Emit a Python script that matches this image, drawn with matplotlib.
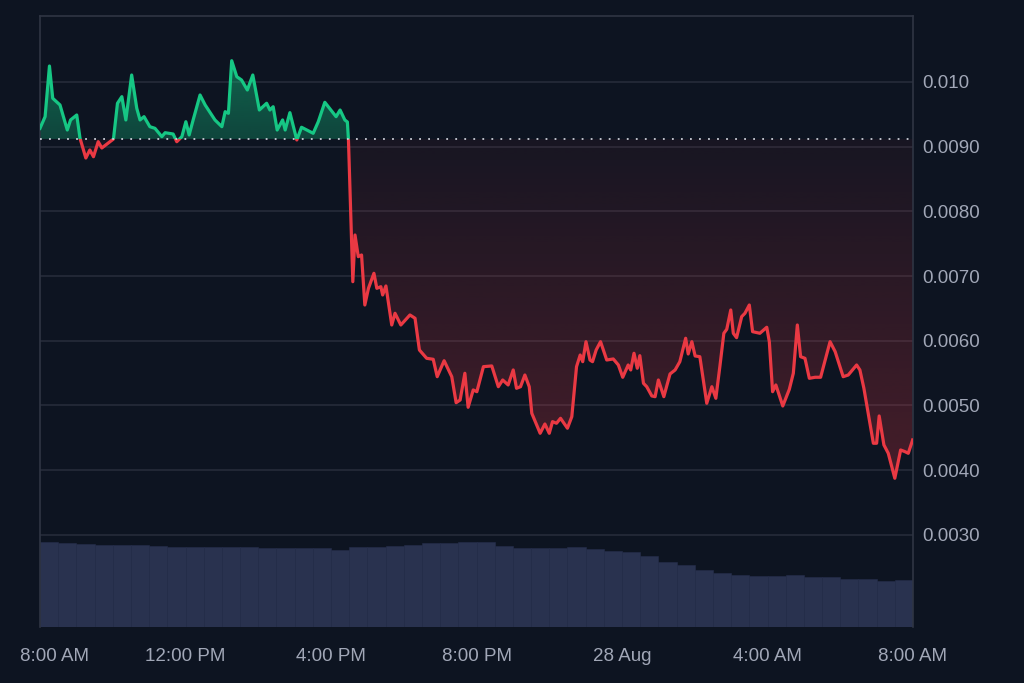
import matplotlib
matplotlib.use("Agg")
import matplotlib.pyplot as plt
import matplotlib.colors as mcolors
import matplotlib.transforms as mtransforms
from matplotlib.path import Path
from matplotlib.patches import Rectangle
import numpy as np

# price, hours after 8:00 AM (27 Aug) -> 8:00 AM (28 Aug)
hours = [0.00, 0.14, 0.26, 0.35, 0.55, 0.75, 0.84, 1.01, 1.10, 1.26, 1.37, 1.47, 1.60, 1.70,
         1.88, 2.02, 2.13, 2.25, 2.36, 2.52, 2.66, 2.75, 2.86, 3.02, 3.16, 3.35, 3.44, 3.66,
         3.76, 3.90, 4.01, 4.10, 4.21, 4.40, 4.54, 4.81, 5.00, 5.09, 5.18, 5.27, 5.41, 5.54,
         5.70, 5.85, 6.03, 6.23, 6.32, 6.41, 6.52, 6.67, 6.74, 6.87, 7.06, 7.19, 7.51, 7.65,
         7.83, 8.14, 8.25, 8.38, 8.45, 8.48, 8.60, 8.66, 8.75, 8.84, 8.93, 9.03, 9.18, 9.26,
         9.37, 9.42, 9.51, 9.67, 9.76, 9.92, 10.17, 10.31, 10.43, 10.63, 10.81, 10.92, 11.11,
         11.32, 11.44, 11.55, 11.68, 11.77, 11.91, 12.01, 12.19, 12.42, 12.60, 12.72, 12.87,
         13.01, 13.10, 13.21, 13.33, 13.45, 13.52, 13.75, 13.88, 14.00, 14.09, 14.20, 14.31,
         14.50, 14.62, 14.75, 14.85, 14.92, 15.01, 15.12, 15.19, 15.29, 15.41, 15.58, 15.76,
         15.90, 16.02, 16.17, 16.24, 16.33, 16.42, 16.49, 16.59, 16.68, 16.82, 16.91, 17.00,
         17.15, 17.32, 17.46, 17.59, 17.75, 17.82, 17.92, 18.01, 18.14, 18.33, 18.47, 18.58,
         18.69, 18.80, 18.88, 18.99, 19.06, 19.15, 19.29, 19.38, 19.50, 19.59, 19.79, 19.98,
         20.05, 20.14, 20.23, 20.42, 20.60, 20.71, 20.82, 20.91, 21.03, 21.15, 21.31, 21.46,
         21.72, 21.86, 22.08, 22.22, 22.45, 22.54, 22.65, 22.91, 23.00, 23.07, 23.20, 23.32,
         23.50, 23.66, 23.78, 23.87, 23.99]
price = [0.009284, 0.009464, 0.010247, 0.009748, 0.009645, 0.009258, 0.009413, 0.009490,
         0.009130, 0.008825, 0.008949, 0.008845, 0.009077, 0.008980, 0.009057, 0.009119,
         0.009671, 0.009773, 0.009413, 0.010108, 0.009594, 0.009413, 0.009464, 0.009309,
         0.009284, 0.009155, 0.009216, 0.009196, 0.009077, 0.009155, 0.009386, 0.009181,
         0.009413, 0.009799, 0.009645, 0.009413, 0.009309, 0.009541, 0.009516, 0.010329,
         0.010082, 0.010031, 0.009876, 0.010108, 0.009567, 0.009671, 0.009567, 0.009618,
         0.009258, 0.009413, 0.009258, 0.009526, 0.009104, 0.009300, 0.009207, 0.009386,
         0.009686, 0.009464, 0.009567, 0.009413, 0.009382, 0.009104, 0.006913, 0.007635,
         0.007300, 0.007326, 0.006553, 0.006811, 0.007043, 0.006811, 0.006836, 0.006708,
         0.006847, 0.006244, 0.006425, 0.006244, 0.006399, 0.006348, 0.005858, 0.005729,
         0.005714, 0.005445, 0.005692, 0.005445, 0.005043, 0.005085, 0.005498, 0.004972,
         0.005240, 0.005213, 0.005600, 0.005611, 0.005290, 0.005394, 0.005317, 0.005549,
         0.005266, 0.005290, 0.005471, 0.005290, 0.004879, 0.004570, 0.004714, 0.004570,
         0.004750, 0.004725, 0.004802, 0.004648, 0.004827, 0.005600, 0.005780, 0.005677,
         0.005986, 0.005703, 0.005677, 0.005858, 0.005986, 0.005703, 0.005719, 0.005626,
         0.005436, 0.005626, 0.005549, 0.005807, 0.005575, 0.005770, 0.005343, 0.005290,
         0.005147, 0.005136, 0.005394, 0.005136, 0.005487, 0.005549, 0.005677, 0.006039,
         0.005796, 0.005986, 0.005765, 0.005754, 0.005034, 0.005290, 0.005111, 0.005600,
         0.006116, 0.006178, 0.006476, 0.006116, 0.006048, 0.006373, 0.006425, 0.006553,
         0.006141, 0.006116, 0.006209, 0.005986, 0.005213, 0.005317, 0.004992, 0.005250,
         0.005498, 0.006244, 0.005754, 0.005729, 0.005420, 0.005436, 0.005436, 0.005986,
         0.005832, 0.005445, 0.005471, 0.005626, 0.005549, 0.005266, 0.004416, 0.004416,
         0.004838, 0.004390, 0.004261, 0.003875, 0.004312, 0.004286, 0.004261, 0.004467]
base_price = 0.00912

# volume, half-hour buckets
vol_hours = [i * 0.5 for i in range(48)]
volume = [1.002, 0.984, 0.975, 0.972, 0.966, 0.966, 0.960, 0.946, 0.946, 0.946, 0.946, 0.946,
          0.931, 0.927, 0.927, 0.927, 0.913, 0.943, 0.946, 0.960, 0.966, 0.986, 0.990, 1.005,
          1.005, 0.955, 0.927, 0.927, 0.927, 0.943, 0.919, 0.899, 0.878, 0.837, 0.770, 0.731,
          0.672, 0.633, 0.613, 0.605, 0.605, 0.607, 0.586, 0.586, 0.562, 0.562, 0.546, 0.550]

x_ticks = [0, 4, 8, 12, 16, 20, 24]
x_labels = ["8:00 AM", "12:00 PM", "4:00 PM", "8:00 PM", "28 Aug", "4:00 AM", "8:00 AM"]
y_ticks = [0.003, 0.004, 0.005, 0.006, 0.007, 0.008, 0.009, 0.010]
y_labels = ["0.0030", "0.0040", "0.0050", "0.0060", "0.0070", "0.0080", "0.0090", "0.010"]

bg = "#0d1421"
green = "#16c784"
red = "#ea3943"
grid_c = "#262c3a"
text_c = "#a1a7b7"

plt.rcParams['font.family'] = ['Liberation Sans', 'DejaVu Sans']

fig = plt.figure(figsize=(10.24, 6.83), dpi=100, facecolor=bg)
pos = [40 / 1024, 56 / 683, 873 / 1024, 611 / 683]

# volume axis underneath
ax_vol = fig.add_axes(pos, facecolor=bg)
ax_vol.bar(vol_hours, volume, width=0.5, align='edge', color="#29324f",
           edgecolor="#252d4a", linewidth=0.4)
ax_vol.set_ylim(0, 7.2)
ax_vol.set_xlim(0, 24)
ax_vol.axis('off')

# price axis on top
ax = fig.add_axes(pos, facecolor='none')
ax.set_xlim(0, 24)
ax.set_ylim(0.001576, 0.01102)

x = np.array(hours)
y = np.array(price)


def gradient_fill(where, color, alpha_lo, alpha_hi, y_lo, y_hi):
    poly = ax.fill_between(x, y, base_price, where=where, interpolate=True,
                           color='none', linewidth=0)
    clip = Path.make_compound_path(*poly.get_paths())
    grad = np.zeros((256, 1, 4))
    grad[:, :, :3] = mcolors.to_rgb(color)
    grad[:, 0, 3] = np.linspace(alpha_lo, alpha_hi, 256)
    im = ax.imshow(grad, aspect='auto', origin='lower',
                   extent=[0, 24, y_lo, y_hi], zorder=1, interpolation='bilinear')
    im.set_clip_path(clip, ax.transData)
    poly.remove()


gradient_fill(y >= base_price, green, 0.28, 0.45, base_price, 0.0104)
gradient_fill(y <= base_price, red, 0.26, 0.05, 0.0039, base_price)

# line in two colours, split at the base price
for col, rect in [(green, Rectangle((0, base_price), 24, 0.01, transform=ax.transData)),
                  (red, Rectangle((0, 0), 24, base_price, transform=ax.transData))]:
    ln, = ax.plot(x, y, color=col, linewidth=2.3, zorder=3, solid_joinstyle='round')
    ln.set_clip_path(rect)

ax.axhline(base_price, color="#c9cdd6", linewidth=1.3, linestyle=(0, (1, 4)), zorder=4)

ax.set_yticks(y_ticks)
ax.set_yticklabels(y_labels)
ax.set_xticks(x_ticks)
ax.set_xticklabels(x_labels)
ax.yaxis.tick_right()
ax.tick_params(axis='y', length=0, pad=7, labelsize=13.5, colors=text_c)
ax.tick_params(axis='x', length=0, pad=15, labelsize=13.5, colors=text_c)
ax.grid(axis='y', color=grid_c, linewidth=1.2)
ax.set_axisbelow(True)

for side in ['left', 'top', 'right']:
    ax.spines[side].set_color("#2f3543")
    ax.spines[side].set_linewidth(1.2)
ax.spines['bottom'].set_visible(False)

# first label sits inside the frame
first = ax.get_xticklabels()[0]
first.set_transform(first.get_transform() +
                    mtransforms.ScaledTranslation(15 / 100, 0, fig.dpi_scale_trans))

fig.savefig("out.png", dpi=100, facecolor=bg)
